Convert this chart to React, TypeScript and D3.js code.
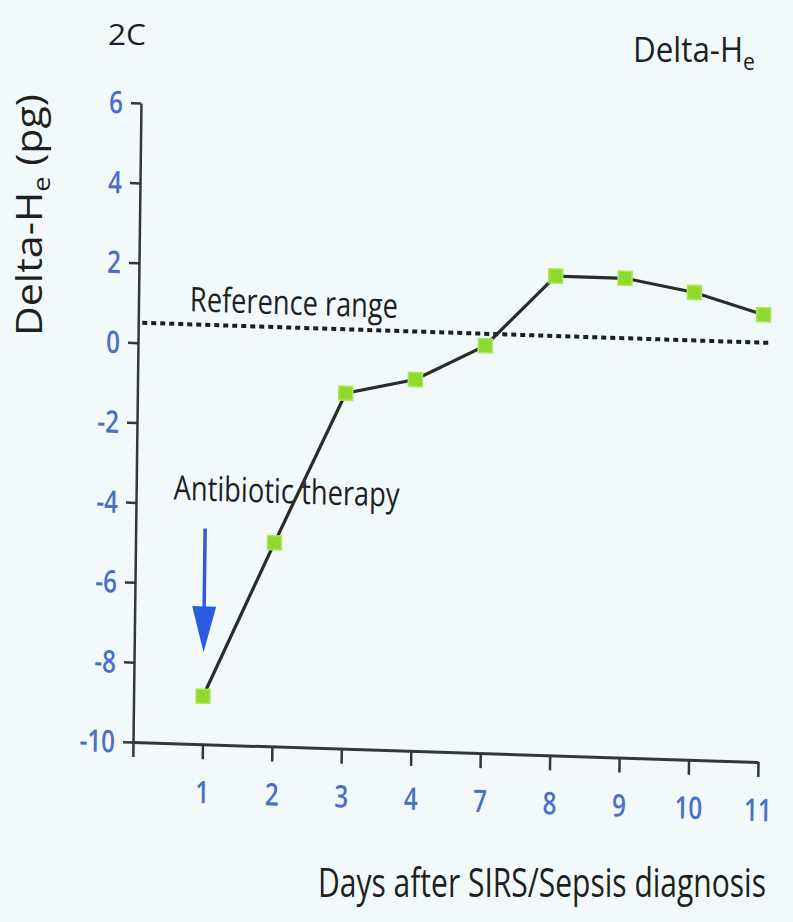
import React, { useEffect, useRef } from "react";
import * as d3 from "d3";

// Delta-He course after SIRS/sepsis diagnosis
const dayLabels = ["1", "2", "3", "4", "7", "8", "9", "10", "11"];
const deltaHe = [-8.8, -4.9, -1.1, -0.7, 0.2, 2.0, 2.0, 1.7, 1.2];
const yTicks = [-10, -8, -6, -4, -2, 0, 2, 4, 6];
const referenceValue = 0.5;
const therapyArrow = { from: -4.6, to: -7.7 };

const W = 793;
const H = 922;
const FONT = "'Open Sans', 'Noto Sans', sans-serif";
const TEXT = "#1f1f1f";

type TextSel = d3.Selection<SVGTextElement, unknown, null, undefined>;

// squeeze a text horizontally to a given width (condensed look)
function fitWidth(t: TextSel, x: number, y: number, width: number, rotate = 0) {
  t.attr("x", 0).attr("y", 0);
  const natural = (t.node() as SVGTextElement).getComputedTextLength() || width;
  const sx = width / natural;
  t.attr(
    "transform",
    `translate(${x},${y})${rotate ? ` rotate(${rotate})` : ""} scale(${sx},1)`
  );
}

export default function App() {
  const ref = useRef<SVGSVGElement>(null);

  useEffect(() => {
    const svg = d3.select(ref.current);
    svg.selectAll("*").remove();

    const x0 = 133, x1 = 758, yTop = 103, yBot = 742;
    const x = d3.scaleLinear().domain([0, dayLabels.length]).range([x0, x1]);
    const y = d3.scaleLinear().domain([-10, 6]).range([yBot, yTop]);
    const xi = (i: number) => x(i + 1);

    svg.append("rect").attr("width", W).attr("height", H).attr("fill", "#f2f9fa");

    // the page is slightly sheared, as on a photographed print
    const g = svg
      .append("g")
      .attr(
        "transform",
        `translate(${x0},${yBot}) matrix(1,0.032,-0.0125,1,0,0) translate(${-x0},${-yBot})`
      );

    const axisColor = "#363636";
    const tickColor = "#4a6fc6";

    // y axis
    const yAxis = g
      .append("g")
      .attr("transform", `translate(${x0},0)`)
      .call(
        d3.axisLeft(y).tickValues(yTicks).tickSize(10).tickSizeOuter(0).tickPadding(13)
          .tickFormat((d) => String(d))
      );
    yAxis.select(".domain").attr("stroke", axisColor).attr("stroke-width", 2.5);
    yAxis.selectAll(".tick line").attr("stroke", axisColor).attr("stroke-width", 2.5);
    yAxis
      .selectAll(".tick text")
      .attr("fill", tickColor)
      .attr("font-family", FONT)
      .attr("font-size", 31)
      .attr("font-weight", 600)
      .attr("dy", "0.34em")
      .attr("transform", "scale(0.78,1)");

    // x axis
    const xAxis = g
      .append("g")
      .attr("transform", `translate(0,${yBot})`)
      .call(
        d3.axisBottom(x)
          .tickValues(d3.range(0, dayLabels.length + 1))
          .tickSize(15)
          .tickSizeOuter(0)
          .tickPadding(16)
          .tickFormat((d) => (Number(d) === 0 ? "" : dayLabels[Number(d) - 1]))
      );
    xAxis.select(".domain").attr("stroke", axisColor).attr("stroke-width", 3);
    xAxis.selectAll(".tick line").attr("stroke", axisColor).attr("stroke-width", 2.5);
    xAxis
      .selectAll(".tick text")
      .attr("fill", tickColor)
      .attr("font-family", FONT)
      .attr("font-size", 31)
      .attr("font-weight", 600)
      .attr("dy", "0.9em")
      .attr("transform", "scale(0.78,1)");

    // reference range
    g.append("line")
      .attr("x1", x0 + 4)
      .attr("x2", x1 + 8)
      .attr("y1", y(referenceValue))
      .attr("y2", y(referenceValue))
      .attr("stroke", "#1e1e1e")
      .attr("stroke-width", 4)
      .attr("stroke-dasharray", "5 4");

    const refLabel = g.append("text")
      .attr("font-family", FONT)
      .attr("font-size", 34)
      .attr("fill", TEXT)
      .text("Reference range");
    fitWidth(refLabel as TextSel, xi(0) - 18, y(referenceValue) - 13, 208);

    // antibiotic therapy annotation
    const abLabel = g.append("text")
      .attr("font-family", FONT)
      .attr("font-size", 34)
      .attr("fill", TEXT)
      .text("Antibiotic therapy");
    fitWidth(abLabel as TextSel, xi(0) - 32, y(-3.9), 226);

    const ax = xi(0);
    const ay1 = y(therapyArrow.from);
    const ay2 = y(therapyArrow.to);
    g.append("line")
      .attr("x1", ax)
      .attr("x2", ax)
      .attr("y1", ay1)
      .attr("y2", ay2 - 42)
      .attr("stroke", "#3458d6")
      .attr("stroke-width", 3.5);
    g.append("path")
      .attr("d", `M${ax - 12},${ay2 - 46} L${ax + 12},${ay2 - 46} L${ax},${ay2} Z`)
      .attr("fill", "#2d5be0");

    // data line
    const line = d3
      .line<number>()
      .x((_, i) => xi(i))
      .y((d) => y(d));
    g.append("path")
      .datum(deltaHe)
      .attr("d", line)
      .attr("fill", "none")
      .attr("stroke", "#2b2b2b")
      .attr("stroke-width", 3.2);

    const s = 14;
    g.selectAll("rect.pt")
      .data(deltaHe)
      .join("rect")
      .attr("class", "pt")
      .attr("x", (_, i) => xi(i) - s / 2)
      .attr("y", (d) => y(d) - s / 2)
      .attr("width", s)
      .attr("height", s)
      .attr("fill", "#8fd92e")
      .attr("stroke", "#a8e85a")
      .attr("stroke-width", 1.5);

    // panel headings and axis titles
    const panel = svg.append("text")
      .attr("font-family", FONT)
      .attr("font-size", 30)
      .attr("fill", TEXT)
      .text("2C");
    fitWidth(panel as TextSel, 108, 45, 38);

    const head = svg.append("text")
      .attr("font-family", FONT)
      .attr("font-size", 34)
      .attr("fill", TEXT);
    head.append("tspan").text("Delta-H");
    head.append("tspan").attr("dy", 8).attr("font-size", 23).text("e");
    fitWidth(head as TextSel, 633, 62, 122);

    const yt = svg.append("text")
      .attr("font-family", FONT)
      .attr("font-size", 36)
      .attr("fill", TEXT);
    yt.append("tspan").text("Delta-H");
    yt.append("tspan").attr("dy", 8).attr("font-size", 24).text("e");
    yt.append("tspan").attr("dy", -8).text(" (pg)");
    fitWidth(yt as TextSel, 42, 336, 242, -90);

    const xt = svg.append("text")
      .attr("font-family", FONT)
      .attr("font-size", 40)
      .attr("fill", TEXT)
      .text("Days after SIRS/Sepsis diagnosis");
    fitWidth(xt as TextSel, 318, 897, 448);
  }, []);

  return (
    <svg
      ref={ref}
      width={W}
      height={H}
      style={{ position: "absolute", left: 0, top: 0, display: "block" }}
    />
  );
}
